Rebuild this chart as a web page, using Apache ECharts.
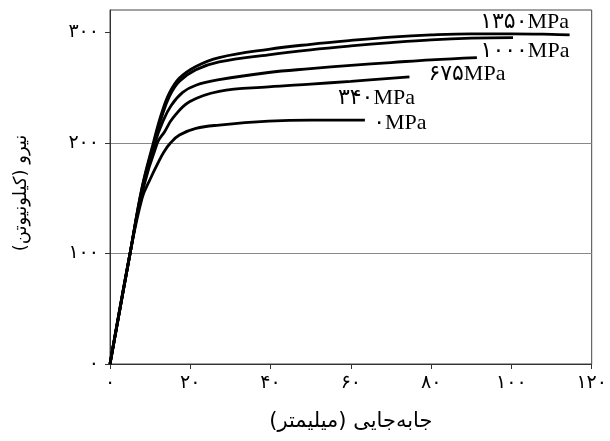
<!DOCTYPE html>
<html>
<head>
<meta charset="utf-8">
<script src="https://cdn.jsdelivr.net/npm/echarts@6/dist/echarts.min.js"></script>
<style>
  html, body { margin: 0; padding: 0; background: #fff; }
  #chart { width: 610px; height: 441px; }
</style>
</head>
<body>
<div id="chart"></div>
<script>
// persian digits for tick labels
var faDigits = '۰۱۲۳۴۵۶۷۸۹';
function toFa(v) {
    return String(v).replace(/[0-9]/g, function (d) { return faDigits[+d]; });
}

var xTicks = [0, 20, 40, 60, 80, 100, 120];
var yTicks = [0, 100, 200, 300];

var seriesNames = ['۱۳۵۰MPa', '۱۰۰۰MPa', '۶۷۵MPa', '۳۴۰MPa', '۰MPa'];

// displacement (mm), force (kN)
var p1350 = [[0, 0], [5, 100], [8, 160], [10.8, 200], [12.8, 226], [14.8, 245], [17.3, 258.5],
    [21.4, 269], [27.2, 277], [39.5, 284.5], [50, 289], [60, 292.5], [70, 295.5],
    [80, 297.5], [90, 298.5], [100, 298.5], [110, 298], [114.5, 297.5]];
var p1000 = [[0, 0], [5, 100], [8, 159], [11, 200], [12.8, 222.5], [14.8, 242], [17.3, 255.5],
    [21.4, 266], [27.2, 273], [39.5, 279.5], [50, 284], [60, 287.5], [70, 290.5],
    [80, 293], [90, 294.5], [100.4, 295]];
var p675 = [[0, 0], [5, 100], [8, 157], [11.2, 200], [13.2, 219.5], [15.2, 233.5], [18.1, 245.5],
    [21.4, 252], [27.2, 257], [39.5, 263.5], [50, 267], [60, 270], [70, 272.5],
    [80, 275], [91.4, 277]];
var p340 = [[0, 0], [5, 100], [8, 155], [11.8, 200], [13.6, 210], [15.6, 222], [19.8, 237],
    [27.2, 246.5], [39.5, 250.5], [50, 253], [60, 255.5], [74.6, 259.5]];
var p0 = [[0, 0], [5, 100], [8, 150], [10, 167], [12, 182], [13.5, 192], [15, 199.5],
    [17.3, 207], [21.4, 213], [27.2, 216], [39.5, 219.5], [50, 220.5], [63.5, 220.5]];

var curves = [p1350, p1000, p675, p340, p0];
// where each name sits relative to the curve end (px)
var labelOffsets = [[-45, -13], [12, 14], [-10, 17], [-33, 21], [35, 3]];

var myChart = echarts.init(document.getElementById('chart'));

var series = curves.map(function (pts, i) {
    return {
        name: seriesNames[i],
        type: 'line',
        data: pts,
        showSymbol: false,
        smooth: 0.4,
        lineStyle: { color: '#000', width: 2.8 },
        markPoint: {
            symbol: 'circle',
            symbolSize: 0,
            silent: true,
            data: [{ coord: pts[pts.length - 1] }],
            label: {
                show: true,
                position: 'inside',
                formatter: seriesNames[i],
                offset: labelOffsets[i],
                color: '#000',
                fontSize: 22,
                fontFamily: "'Liberation Serif', 'DejaVu Sans', serif"
            }
        }
    };
});

var option = {
    animation: false,
    backgroundColor: '#fff',
    grid: {
        left: 110, right: 14, top: 10, bottom: 77,
        show: true, borderColor: '#444', borderWidth: 1
    },
    xAxis: {
        type: 'value',
        min: 0, max: 120, interval: 20,
        name: '\u200Fجابه‌جایی (میلیمتر)\u200F',
        nameLocation: 'middle',
        nameGap: 47,
        nameTextStyle: { color: '#000', fontSize: 21, fontFamily: "'DejaVu Sans', sans-serif" },
        axisLine: { lineStyle: { color: '#333', width: 1 } },
        axisTick: { show: true, inside: false, length: 5, lineStyle: { color: '#333' } },
        axisLabel: {
            margin: 10, color: '#000', fontSize: 19,
            fontFamily: "'DejaVu Sans', sans-serif",
            formatter: function (v) { return toFa(v); }
        },
        splitLine: { show: false }
    },
    yAxis: {
        type: 'value',
        min: 0, max: 320,
        name: '\u200Fنیرو (کیلونیوتن)\u200F',
        nameLocation: 'middle',
        nameGap: 80,
        nameTextStyle: {
            color: '#000', fontSize: 18, fontFamily: "'DejaVu Sans', sans-serif",
            padding: [0, 12, 0, 0]
        },
        axisLine: { show: true, lineStyle: { color: '#333', width: 1 } },
        axisTick: { show: true, length: 5, customValues: yTicks, lineStyle: { color: '#333' } },
        axisLabel: {
            margin: 11, color: '#000', fontSize: 19,
            fontFamily: "'DejaVu Sans', sans-serif",
            customValues: yTicks,
            formatter: function (v) { return toFa(v); }
        },
        splitLine: {
            show: true, showMinLine: false, showMaxLine: false,
            lineStyle: { color: '#888', width: 1 }
        }
    },
    series: series
};

myChart.setOption(option);
</script>
</body>
</html>
